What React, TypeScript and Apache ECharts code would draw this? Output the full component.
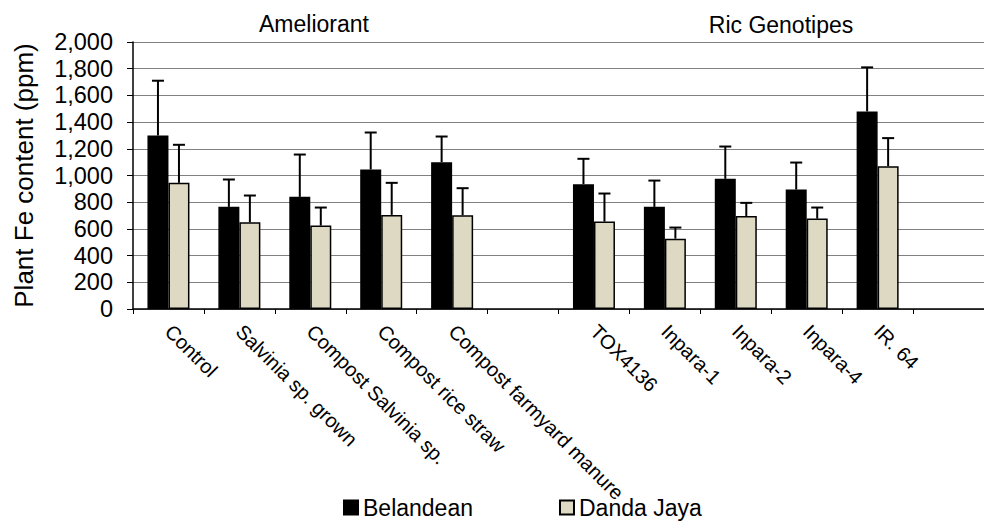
import React, { useEffect, useRef } from "react";
import * as echarts from "echarts";

const categories = [
  "Control",
  "Salvinia sp. grown",
  "Compost Salvinia sp.",
  "Compost rice straw",
  "Compost farmyard manure",
  "",
  "TOX4136",
  "Inpara-1",
  "Inpara-2",
  "Inpara-4",
  "IR. 64",
  "",
];
const belandean = [1300, 765, 840, 1045, 1100, null, 935, 765, 975, 895, 1480, null];
const belandeanErr = [410, 205, 317, 277, 192, null, 190, 197, 242, 202, 330, null];
const dandaJaya = [945, 650, 625, 705, 702, null, 655, 527, 697, 677, 1070, null];
const dandaJayaErr = [285, 200, 135, 240, 203, null, 210, 83, 98, 83, 210, null];
const groupTitles = ["Ameliorant", "Ric Genotipes"];

const FONT = "'Liberation Sans', Arial, sans-serif";
const BAR_W = 21;

function errData(vals: (number | null)[], errs: (number | null)[]) {
  const out: number[][] = [];
  vals.forEach((v, i) => {
    if (v != null && errs[i] != null) out.push([i, v, errs[i] as number]);
  });
  return out;
}

function errSeries(vals: (number | null)[], errs: (number | null)[], offset: number) {
  return {
    type: "custom",
    z: 10,
    data: errData(vals, errs),
    encode: { x: 0, y: [1, 2] },
    renderItem: (_p: any, api: any) => {
      const idx = api.value(0);
      const v = api.value(1);
      const e = api.value(2);
      const base = api.coord([idx, v]);
      const top = api.coord([idx, v + e]);
      const x = base[0] + offset;
      return {
        type: "group",
        children: [
          { type: "line", shape: { x1: x, y1: base[1], x2: x, y2: top[1] }, style: { stroke: "#000", lineWidth: 2 } },
          { type: "line", shape: { x1: x - 6, y1: top[1], x2: x + 6, y2: top[1] }, style: { stroke: "#000", lineWidth: 2 } },
        ],
      };
    },
  };
}

export default function App() {
  const ref = useRef<HTMLDivElement>(null);
  useEffect(() => {
    if (!ref.current) return;
    const chart = echarts.init(ref.current, null, { renderer: "svg" });
    chart.setOption({
      animation: false,
      textStyle: { fontFamily: FONT },
      grid: { left: 133, top: 42, width: 860, height: 267, containLabel: false },
      legend: {
        data: ["Belandean", "Danda Jaya"],
        left: 338,
        top: 491,
        itemWidth: 14,
        itemHeight: 14,
        itemGap: 86,
        itemTextGap: 5,
        icon: "rect",
        textStyle: { fontSize: 23, color: "#000", fontFamily: FONT },
      },
      graphic: [
        { type: "text", x: 314, y: 24, style: { text: groupTitles[0], fontSize: 23, fontFamily: FONT, fill: "#000", textAlign: "center", textVerticalAlign: "middle" } },
        { type: "text", x: 781, y: 25, style: { text: groupTitles[1], fontSize: 23, fontFamily: FONT, fill: "#000", textAlign: "center", textVerticalAlign: "middle" } },
      ],
      xAxis: {
        type: "category",
        data: categories,
        axisLine: { lineStyle: { color: "#000", width: 1.5 } },
        axisTick: { show: true, length: 5, lineStyle: { color: "#000" } },
        axisLabel: { rotate: -45, interval: 0, fontSize: 20, color: "#000", margin: 19, fontFamily: FONT },
        splitLine: { show: false },
      },
      yAxis: {
        type: "value",
        min: 0,
        max: 2000,
        interval: 200,
        name: "Plant Fe content (ppm)",
        nameLocation: "middle",
        nameGap: 96,
        nameTextStyle: { fontSize: 26, color: "#000", fontFamily: FONT },
        axisLine: { show: true, lineStyle: { color: "#000", width: 1.5 } },
        axisTick: { show: true, length: 6, lineStyle: { color: "#000" } },
        axisLabel: {
          fontSize: 23.5,
          color: "#000",
          margin: 20,
          fontFamily: FONT,
          formatter: (v: number) => v.toLocaleString("en-US"),
        },
        splitLine: { show: true, lineStyle: { color: "#808080", width: 1 } },
      },
      series: [
        {
          name: "Belandean",
          type: "bar",
          data: belandean.map((v) => (v == null ? "-" : v)),
          barWidth: BAR_W,
          barGap: "0%",
          itemStyle: { color: "#000", borderColor: "#000", borderWidth: 1.5 },
        },
        {
          name: "Danda Jaya",
          type: "bar",
          data: dandaJaya.map((v) => (v == null ? "-" : v)),
          barWidth: BAR_W,
          barGap: "0%",
          itemStyle: { color: "#DDD9C3", borderColor: "#000", borderWidth: 1.5 },
        },
        errSeries(belandean, belandeanErr, -BAR_W / 2),
        errSeries(dandaJaya, dandaJayaErr, BAR_W / 2),
      ],
    });
    return () => chart.dispose();
  }, []);
  return <div ref={ref} style={{ position: "absolute", left: 0, top: 0, width: 984, height: 521 }} />;
}
